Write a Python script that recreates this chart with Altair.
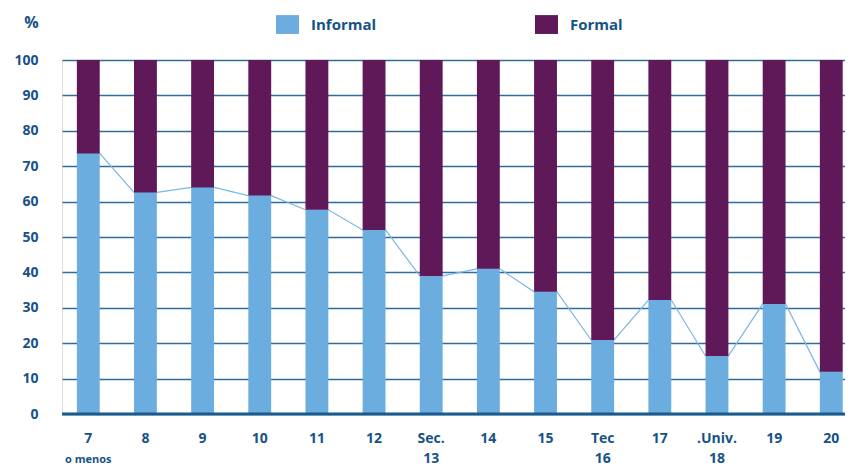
import altair as alt
import pandas as pd

categories = ["7", "8", "9", "10", "11", "12", "13", "14", "15", "16", "17", "18", "19", "20"]
label_top = ["7", "8", "9", "10", "11", "12", "Sec.", "14", "15", "Tec", "17", ".Univ.", "19", "20"]
label_bottom = ["o menos", "", "", "", "", "", "13", "", "", "16", "", "18", "", ""]
informal = [73.6, 62.6, 64.0, 61.7, 57.7, 52.0, 39.0, 41.0, 34.5, 20.9, 32.2, 16.4, 31.1, 11.9]

BLUE = "#6cade0"
PURPLE = "#5f1858"
TEXT = "#175287"
GRID = "#2f6c9c"
FONT = "Open Sans"
HALF = 0.2

rows = []
for i, (c, v) in enumerate(zip(categories, informal)):
    rows.append({"idx": i, "cat": c, "tipo": "Informal", "y0": 0, "y1": v})
    rows.append({"idx": i, "cat": c, "tipo": "Formal", "y0": v, "y1": 100})
bars_df = pd.DataFrame(rows)

line_rows = []
for i, v in enumerate(informal):
    line_rows.append({"xp": i - HALF, "v": v, "o": 2 * i})
    line_rows.append({"xp": i + HALF, "v": v, "o": 2 * i + 1})
line_df = pd.DataFrame(line_rows)

lab_df = pd.DataFrame({"idx": list(range(len(categories))), "l1": label_top, "l2": label_bottom})

xscale = alt.Scale(domain=[-0.46, 13.24], nice=False, zero=False)
yscale = alt.Scale(domain=[0, 100], nice=False)

yaxis = alt.Axis(
    values=list(range(0, 101, 10)),
    tickCount=11,
    labelOverlap=False,
    grid=True,
    gridColor=GRID,
    gridWidth=1.5,
    domain=False,
    ticks=False,
    labelPadding=24,
    labelFont=FONT,
    labelFontWeight="bold",
    labelFontSize=14,
    labelColor=TEXT,
    title="%",
    titleAngle=0,
    titleX=-31,
    titleY=-38,
    titleAlign="center",
    titleBaseline="middle",
    titleFont=FONT,
    titleFontSize=16,
    titleFontWeight="bold",
    titleColor=TEXT,
)

line = alt.Chart(line_df).mark_line(color="#7ab6e6", strokeWidth=1.2).encode(
    x=alt.X("xp:Q", scale=xscale, axis=None),
    y=alt.Y("v:Q", scale=yscale, axis=yaxis),
    order="o:Q",
)

bars = alt.Chart(bars_df).transform_calculate(
    xa=f"datum.idx - {HALF}", xb=f"datum.idx + {HALF}"
).mark_bar().encode(
    x=alt.X("xa:Q", scale=xscale, axis=None),
    x2="xb:Q",
    y=alt.Y("y0:Q", scale=yscale, axis=yaxis),
    y2="y1:Q",
    color=alt.Color(
        "tipo:N",
        scale=alt.Scale(domain=["Informal", "Formal"], range=[BLUE, PURPLE]),
        legend=alt.Legend(
            title=None,
            orient="none",
            legendX=214,
            legendY=-47,
            direction="horizontal",
            symbolType="M-1,-0.82H1V0.82H-1Z",
            symbolSize=529,
            symbolStrokeWidth=0,
            symbolOpacity=1,
            labelOffset=12,
            columnPadding=158,
            labelFont=FONT,
            labelFontWeight="bold",
            labelFontSize=15,
            labelColor=TEXT,
            padding=0,
        ),
    ),
)

base_rule = alt.Chart(pd.DataFrame({"z": [0]})).mark_rule(color="#1a5a8c", strokeWidth=3).encode(
    y=alt.Y("z:Q", scale=yscale, axis=yaxis)
)

txt1 = alt.Chart(lab_df).mark_text(
    font=FONT, fontWeight="bold", fontSize=14, color=TEXT, baseline="middle"
).encode(
    x=alt.X("idx:Q", scale=xscale, axis=None),
    y=alt.value(379),
    text="l1:N",
)

txt2a = alt.Chart(lab_df).transform_filter("datum.l2 == 'o menos'").mark_text(
    font=FONT, fontWeight="bold", fontSize=11, color=TEXT, baseline="middle"
).encode(
    x=alt.X("idx:Q", scale=xscale, axis=None),
    y=alt.value(400),
    text="l2:N",
)

txt2b = alt.Chart(lab_df).transform_filter("datum.l2 != 'o menos'").mark_text(
    font=FONT, fontWeight="bold", fontSize=14, color=TEXT, baseline="middle"
).encode(
    x=alt.X("idx:Q", scale=xscale, axis=None),
    y=alt.value(399),
    text="l2:N",
)

chart = alt.layer(line, bars, base_rule, txt1, txt2a, txt2b).properties(
    width=783,
    height=354,
    autosize=alt.AutoSizeParams(type="none"),
    padding={"left": 54, "top": 52, "right": 0, "bottom": 52},
).configure_view(stroke=None).configure(background="white")

chart.save("out.html", embed_options={"renderer": "svg", "actions": False})
